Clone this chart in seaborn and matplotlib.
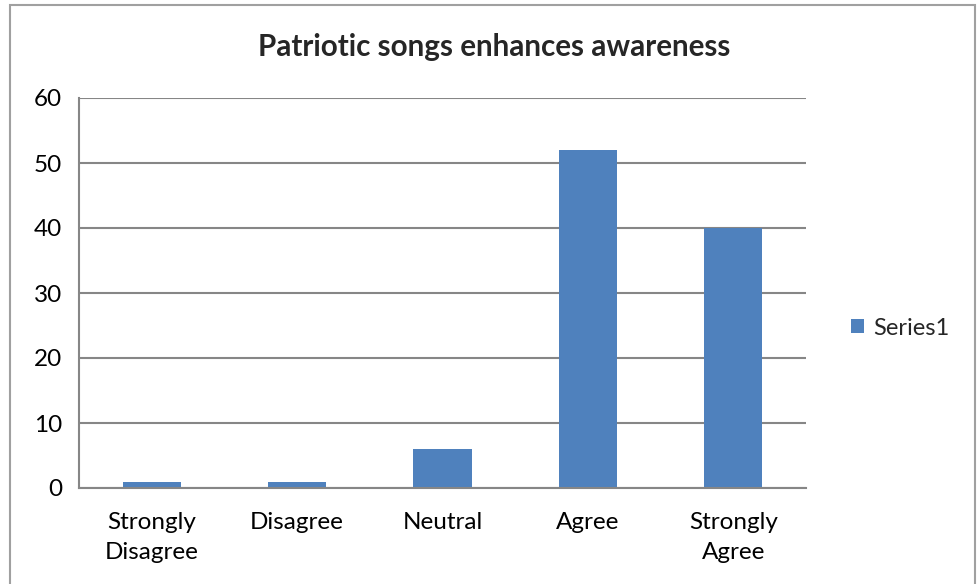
import matplotlib
matplotlib.use("Agg")
import matplotlib.pyplot as plt
import seaborn as sns
import pandas as pd
from matplotlib.patches import Rectangle

categories = ["Strongly\nDisagree", "Disagree", "Neutral", "Agree", "Strongly\nAgree"]
values = [1, 1, 6, 52, 40]
series_name = "Series1"
title = "Patriotic songs enhances awareness"
yticks = [0, 10, 20, 30, 40, 50, 60]

sns.set_theme(style="white")
plt.rcParams['font.family'] = ['Lato', 'DejaVu Sans']

df = pd.DataFrame({"category": categories, "value": values, "series": series_name})

fig = plt.figure(figsize=(9.79, 5.84), dpi=100)
ax = fig.add_axes([79/979, 96/584, (806-79)/979, (488-98)/584])

sns.barplot(data=df, x="category", y="value", hue="series", palette=["#4F81BD"],
            width=0.4, ax=ax, saturation=1, linewidth=0)

ax.set_ylim(0, 60)
ax.set_yticks(yticks)
ax.set_yticklabels([str(t) for t in yticks], fontsize=17.5, color="#000000")
ax.tick_params(axis='x', labelsize=17.5, colors="#000000", length=0, pad=17)
ax.tick_params(axis='y', length=0, pad=12)
for lbl in ax.get_xticklabels():
    lbl.set_linespacing(1.55)
ax.set_xlabel("")
ax.set_ylabel("")
ax.grid(axis='y', color="#868686", linewidth=1.5)
ax.set_axisbelow(True)
for s in ["top", "right"]:
    ax.spines[s].set_visible(False)
for s in ["left", "bottom"]:
    ax.spines[s].set_color("#868686")
    ax.spines[s].set_linewidth(1.5)

fig.text(494/979, 1 - 47/584, title, fontsize=21.3, fontweight="bold", ha="center", va="center")

leg = ax.legend(loc="center left", bbox_to_anchor=(1.033, 0.41), frameon=False,
                fontsize=17, handlelength=0.55, handleheight=0.55, handletextpad=0.4)

fig.patches.append(Rectangle((10/979, -0.05), (975-10)/979, 1 - 5/584 + 0.05,
                             transform=fig.transFigure, fill=False,
                             edgecolor="#A0A0A0", linewidth=1.5))

fig.savefig("out.png", dpi=100)
